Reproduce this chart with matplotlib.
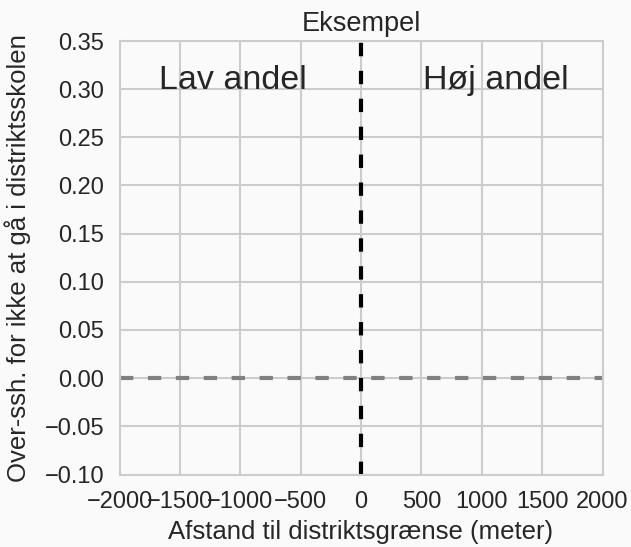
import matplotlib
matplotlib.use("Agg")
import matplotlib.pyplot as plt
import numpy as np

xlim = [-2000, 2000]
ylim = [-0.10, 0.35]
xticks = [-2000, -1500, -1000, -500, 0, 500, 1000, 1500, 2000]
yticks = [-0.10, -0.05, 0.00, 0.05, 0.10, 0.15, 0.20, 0.25, 0.30, 0.35]
hline_y = 0.0
vline_x = 0
labels = ["Lav andel", "Høj andel"]
label_x = [-1060, 1120]
label_y = 0.30

plt.rcParams['font.family'] = ['Liberation Sans', 'DejaVu Sans']
bg = '#fafafa'
fig = plt.figure(figsize=(6.31, 5.47), dpi=100, facecolor=bg)
ax = fig.add_axes([119.5/631, 1-474.5/547, (602.5-119.5)/631, (474.5-41)/547])
ax.set_facecolor(bg)
ax.set_xlim(xlim)
ax.set_ylim(ylim)
ax.set_xticks(xticks)
ax.set_yticks(yticks)
ax.set_xticklabels([str(v).replace('-', '\u2212') for v in xticks])
ax.set_yticklabels([f"{v:.2f}".replace('-', '\u2212') for v in yticks])
ax.grid(True, color='#cccccc', linewidth=1.5)
ax.set_axisbelow(True)
for s in ax.spines.values():
    s.set_color('#cccccc')
    s.set_linewidth(1.5)
ax.tick_params(axis='y', length=0, labelsize=17, colors='#262626', pad=11)
ax.tick_params(axis='x', length=0, labelsize=17, colors='#262626', pad=12)

ax.axhline(hline_y, color='gray', linestyle='--', linewidth=3, dashes=(3.2, 3.5))
ax.axvline(vline_x, color='black', linestyle='--', linewidth=3, dashes=(3.2, 3.5))

for t, x in zip(labels, label_x):
    ax.text(x, label_y, t, ha='center', va='baseline', fontsize=24.5, color='#262626')

ax.set_title("Eksempel", fontsize=19.5, color='#262626', pad=7.5)
ax.set_xlabel("Afstand til distriktsgrænse (meter)", fontsize=18.5, color='#262626', labelpad=5)
ax.set_ylabel("Over-ssh. for ikke at gå i distriktsskolen", fontsize=18.5, color='#262626', labelpad=9.5)

fig.savefig("out.png", dpi=100, facecolor=fig.get_facecolor())
